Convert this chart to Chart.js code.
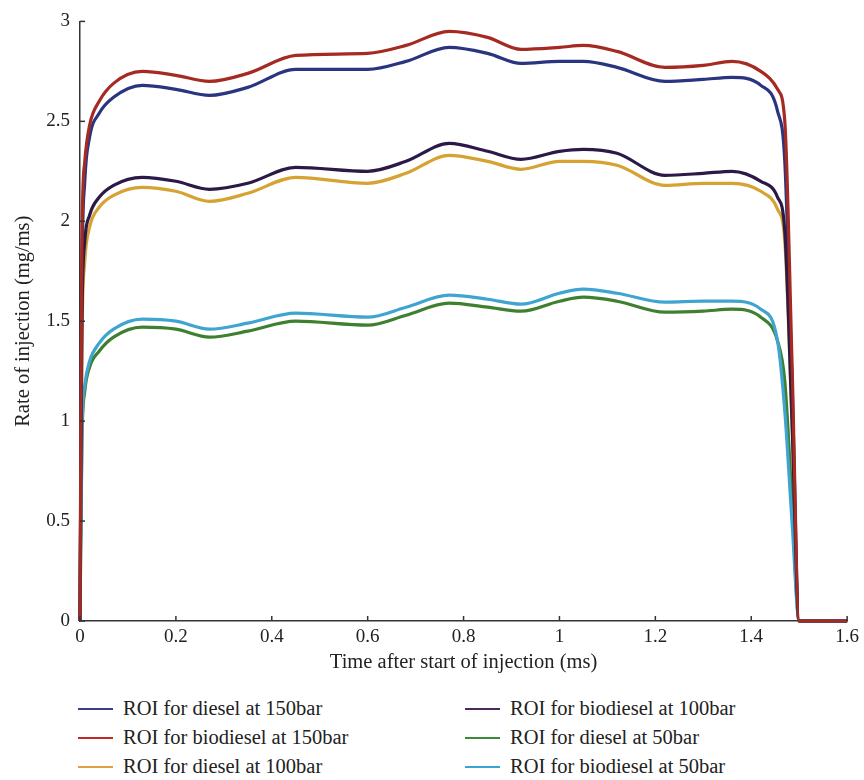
<!DOCTYPE html>
<html>
<head>
<meta charset="utf-8">
<script src="https://cdn.jsdelivr.net/npm/chart.js@4"></script>
<style>
  body { margin: 0; background: #fff; }
  #wrap { position: relative; width: 864px; height: 680px; }
  #legend {
    position: absolute; left: 78px; top: 694px;
    display: grid; grid-template-rows: repeat(3, 29px); grid-auto-flow: column;
    grid-template-columns: 387px 360px;
    font-family: "Liberation Serif", "DejaVu Serif", serif; font-size: 20.5px; color: #222;
  }
  #legend div { display: flex; align-items: center; }
  #legend span.ln { display: inline-block; width: 35px; height: 2px; margin-right: 10px; }
</style>
</head>
<body>
<div id="wrap"><canvas id="stage" width="864" height="680"></canvas></div>
<div id="legend"></div>
<script>
// 時間軸 (ms)
const times = [0, 0.004, 0.01, 0.02, 0.04, 0.07, 0.13, 0.2, 0.27, 0.35, 0.45, 0.6, 0.68, 0.77, 0.85, 0.92,
  1.0, 1.05, 1.12, 1.22, 1.3, 1.36, 1.42, 1.455, 1.47, 1.485, 1.5, 1.55, 1.6];

const diesel150 = [0, 1.7, 2.2, 2.42, 2.54, 2.62, 2.68, 2.66, 2.63, 2.67, 2.76, 2.76, 2.80, 2.87, 2.84, 2.79,
  2.80, 2.80, 2.77, 2.70, 2.71, 2.72, 2.68, 2.55, 2.3, 1.2, 0, 0, 0];
const biodiesel150 = [0, 1.9, 2.3, 2.48, 2.6, 2.69, 2.75, 2.73, 2.70, 2.74, 2.83, 2.84, 2.88, 2.95, 2.92, 2.86,
  2.87, 2.88, 2.85, 2.77, 2.78, 2.80, 2.75, 2.66, 2.5, 1.3, 0, 0, 0];
const diesel100 = [0, 1.4, 1.8, 1.97, 2.07, 2.13, 2.17, 2.15, 2.10, 2.14, 2.22, 2.19, 2.24, 2.33, 2.30, 2.26,
  2.30, 2.30, 2.28, 2.18, 2.19, 2.19, 2.15, 2.06, 1.9, 1.0, 0, 0, 0];
const biodiesel100 = [0, 1.5, 1.9, 2.03, 2.12, 2.18, 2.22, 2.20, 2.16, 2.19, 2.27, 2.25, 2.30, 2.39, 2.35, 2.31,
  2.35, 2.36, 2.34, 2.23, 2.24, 2.25, 2.20, 2.12, 1.95, 1.0, 0, 0, 0];
const diesel50 = [0, 0.9, 1.15, 1.27, 1.35, 1.42, 1.47, 1.46, 1.42, 1.45, 1.50, 1.48, 1.53, 1.59, 1.57, 1.55,
  1.60, 1.62, 1.60, 1.545, 1.55, 1.56, 1.52, 1.40, 1.2, 0.6, 0, 0, 0];
const biodiesel50 = [0, 0.95, 1.18, 1.3, 1.39, 1.46, 1.51, 1.50, 1.46, 1.49, 1.54, 1.52, 1.57, 1.63, 1.61, 1.585,
  1.64, 1.66, 1.64, 1.595, 1.60, 1.60, 1.56, 1.40, 1.05, 0.5, 0, 0, 0];

function pts(ys) {
  return times.map((t, i) => ({ x: t, y: ys[i] }));
}

function ds(label, ys, color, legendColor, order) {
  return {
    label: label,
    data: pts(ys),
    borderColor: color,
    legendColor: legendColor,
    borderWidth: 3.2,
    pointRadius: 0,
    fill: false,
    cubicInterpolationMode: 'monotone',
    clip: false,
    order: order
  };
}

const data = {
  datasets: [
    ds('ROI for diesel at 150bar', diesel150, '#2a3580', '#3a3d8c', 5),
    ds('ROI for biodiesel at 150bar', biodiesel150, '#a52a22', '#c0282a', 1),
    ds('ROI for diesel at 100bar', diesel100, '#d6a232', '#e0a040', 6),
    ds('ROI for biodiesel at 100bar', biodiesel100, '#2b1a48', '#4a2a5a', 2),
    ds('ROI for diesel at 50bar', diesel50, '#3e8030', '#3a8a3a', 4),
    ds('ROI for biodiesel at 50bar', biodiesel50, '#3fa5d0', '#3aa3d3', 3)
  ]
};

// 内向きの目盛り
const innerTicks = {
  id: 'innerTicks',
  afterDraw(chart) {
    const ctx = chart.ctx;
    const xs = chart.scales.x, ys = chart.scales.y;
    ctx.save();
    ctx.strokeStyle = '#333';
    ctx.lineWidth = 1.5;
    xs.ticks.forEach(t => {
      const px = xs.getPixelForValue(t.value);
      ctx.beginPath(); ctx.moveTo(px, ys.bottom); ctx.lineTo(px, ys.bottom - 5); ctx.stroke();
    });
    ys.ticks.forEach(t => {
      const py = ys.getPixelForValue(t.value);
      ctx.beginPath(); ctx.moveTo(xs.left, py); ctx.lineTo(xs.left + 5, py); ctx.stroke();
    });
    ctx.restore();
  }
};

const tickFont = { family: '"Liberation Serif", "DejaVu Serif", serif', size: 19 };
const titleFont = { family: '"Liberation Serif", "DejaVu Serif", serif', size: 20.5 };

const config = {
  type: 'line',
  data: data,
  options: {
    responsive: false,
    animation: false,
    layout: { padding: { top: 17, right: 16 } },
    plugins: { legend: { display: false }, tooltip: { enabled: false } },
    scales: {
      x: {
        type: 'linear', min: 0, max: 1.6,
        ticks: { stepSize: 0.2, color: '#222', font: tickFont, padding: 5, maxRotation: 0,
          callback: v => Number(v.toFixed(1)).toString() },
        grid: { display: false, drawTicks: false },
        border: { display: true, color: '#333', width: 1.5 },
        title: { display: true, text: 'Time after start of injection (ms)', color: '#222', font: titleFont,
          padding: { top: 0, bottom: 5 } },
        afterFit: s => { s.height = 59; }
      },
      y: {
        min: 0, max: 3,
        ticks: { stepSize: 0.5, color: '#222', font: tickFont, padding: 10,
          callback: v => Number(v.toFixed(1)).toString() },
        grid: { display: false, drawTicks: false },
        border: { display: true, color: '#333', width: 1.5 },
        title: { display: true, text: 'Rate of injection (mg/ms)', color: '#222', font: titleFont,
          padding: { top: 11, bottom: 0 } },
        afterFit: s => { s.width = 80; }
      }
    }
  },
  plugins: [innerTicks]
};

const myChart = new Chart(document.getElementById('stage').getContext('2d'), config);

// 凡例
const legend = document.getElementById('legend');
myChart.data.datasets.forEach(d => {
  const item = document.createElement('div');
  item.innerHTML = '<span class="ln" style="background:' + d.legendColor + '"></span>' + d.label;
  legend.appendChild(item);
});
</script>
</body>
</html>
